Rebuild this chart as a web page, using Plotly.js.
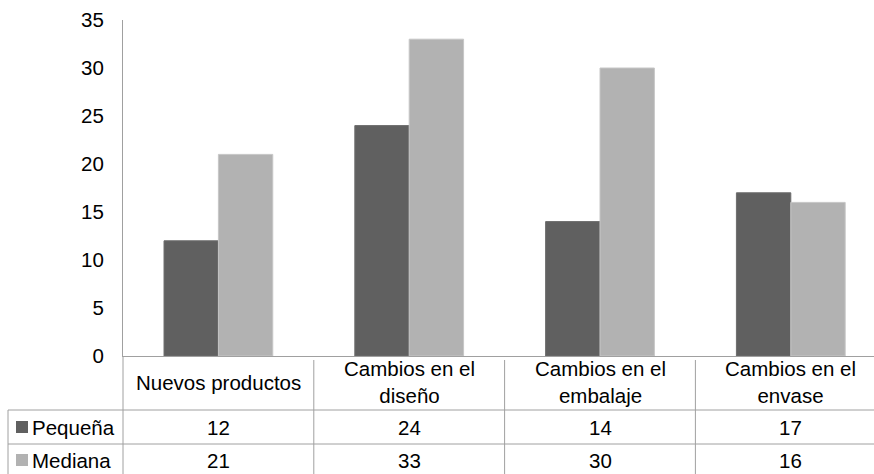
<!DOCTYPE html>
<html>
<head>
<meta charset="utf-8">
<script src="https://cdn.plot.ly/plotly-3.0.1.min.js"></script>
<style>html,body{margin:0;padding:0;background:#fff;}#chart{width:874px;height:474px;}</style>
</head>
<body>
<div id="chart"></div>
<script>
const categories = ["Nuevos productos", "Cambios en el diseño", "Cambios en el embalaje", "Cambios en el envase"];
const tableLabels = ["Nuevos productos", "Cambios en el<br>diseño", "Cambios en el<br>embalaje", "Cambios en el<br>envase"];
const seriesNames = ["Pequeña", "Mediana"];
const pequena = [12, 24, 14, 17];
const mediana = [21, 33, 30, 16];
const colors = ["#606060", "#b2b2b2"];
const edgeColors = ["#6c6c6c", "#c6c6c6"];
const yTicks = [0, 5, 10, 15, 20, 25, 30, 35];

const FONT = "Liberation Sans, Arial, sans-serif";
const FS = 20.5;
const idx = categories.map((c, i) => i);

const traces = [
  {type: "bar", x: idx, y: pequena, name: seriesNames[0], marker: {color: colors[0], line: {color: edgeColors[0], width: 1}}, hoverinfo: "none"},
  {type: "bar", x: idx, y: mediana, name: seriesNames[1], marker: {color: colors[1], line: {color: edgeColors[1], width: 1}}, hoverinfo: "none"}
];

// plot area geometry (pixels) used only for paper-coordinate conversion
const plotTop = 20, plotBottom = 356, plotH = plotBottom - plotTop, plotLeft = 123, plotW = 874 - plotLeft;
const py = (pix) => (plotBottom - pix) / plotH;
const px = (pix) => (pix - plotLeft) / plotW;

const lineColor = "#a0a0a0";
const shapes = [];
shapes.push({type: "line", xref: "paper", yref: "paper", x0: 0, x1: 0, y0: py(480), y1: 0, line: {color: lineColor, width: 1}});
for (let i = 0; i < categories.length - 1; i++) {
  shapes.push({type: "line", xref: "x", yref: "paper", x0: i + 0.5, x1: i + 0.5, y0: py(480), y1: py(360), line: {color: lineColor, width: 1}});
}
[410, 444].forEach(r => shapes.push({type: "line", xref: "paper", yref: "paper", x0: px(8), x1: 1, y0: py(r), y1: py(r), line: {color: lineColor, width: 1}}));
shapes.push({type: "line", xref: "paper", yref: "paper", x0: px(8), x1: px(8), y0: py(480), y1: py(410), line: {color: lineColor, width: 1}});
const rowCenters = [427, 460];
rowCenters.forEach((c, k) => shapes.push({type: "rect", xref: "paper", yref: "paper", x0: px(16), x1: px(28), y0: py(c + 6), y1: py(c - 6), line: {width: 0}, fillcolor: colors[k]}));

const annotations = [];
tableLabels.forEach((t, i) => annotations.push({xref: "x", yref: "paper", x: i, y: py(382), text: t, showarrow: false, xanchor: "center", yanchor: "middle", align: "center", font: {family: FONT, size: FS, color: "#000"}}));
[pequena, mediana].forEach((vals, k) => {
  annotations.push({xref: "paper", yref: "paper", x: px(30), y: py(rowCenters[k]), text: seriesNames[k], showarrow: false, xanchor: "left", yanchor: "middle", font: {family: FONT, size: FS, color: "#000"}});
  vals.forEach((v, i) => annotations.push({xref: "x", yref: "paper", x: i, y: py(rowCenters[k]), text: String(v), showarrow: false, xanchor: "center", yanchor: "middle", font: {family: FONT, size: FS, color: "#000"}}));
});

const layout = {
  width: 874, height: 474,
  margin: {l: plotLeft, r: 0, t: plotTop, b: 474 - plotBottom, pad: 0},
  paper_bgcolor: "#fff", plot_bgcolor: "#fff",
  barmode: "group", bargap: 0.43, bargroupgap: 0,
  showlegend: false,
  font: {family: FONT, size: FS, color: "#000"},
  xaxis: {type: "linear", range: [-0.5, -0.5 + plotW / 190.8], showticklabels: false, ticks: "", showgrid: false, zeroline: false, showline: true, linecolor: lineColor, linewidth: 1, fixedrange: true},
  yaxis: {range: [0, 35], tickvals: yTicks, ticktext: yTicks.map(String), showgrid: false, zeroline: false, showline: true, linecolor: lineColor, linewidth: 1, ticks: "", ticklabelstandoff: 14, tickfont: {family: FONT, size: FS, color: "#000"}, fixedrange: true},
  shapes: shapes,
  annotations: annotations
};

Plotly.newPlot("chart", traces, layout, {staticPlot: true, displayModeBar: false});
</script>
</body>
</html>
